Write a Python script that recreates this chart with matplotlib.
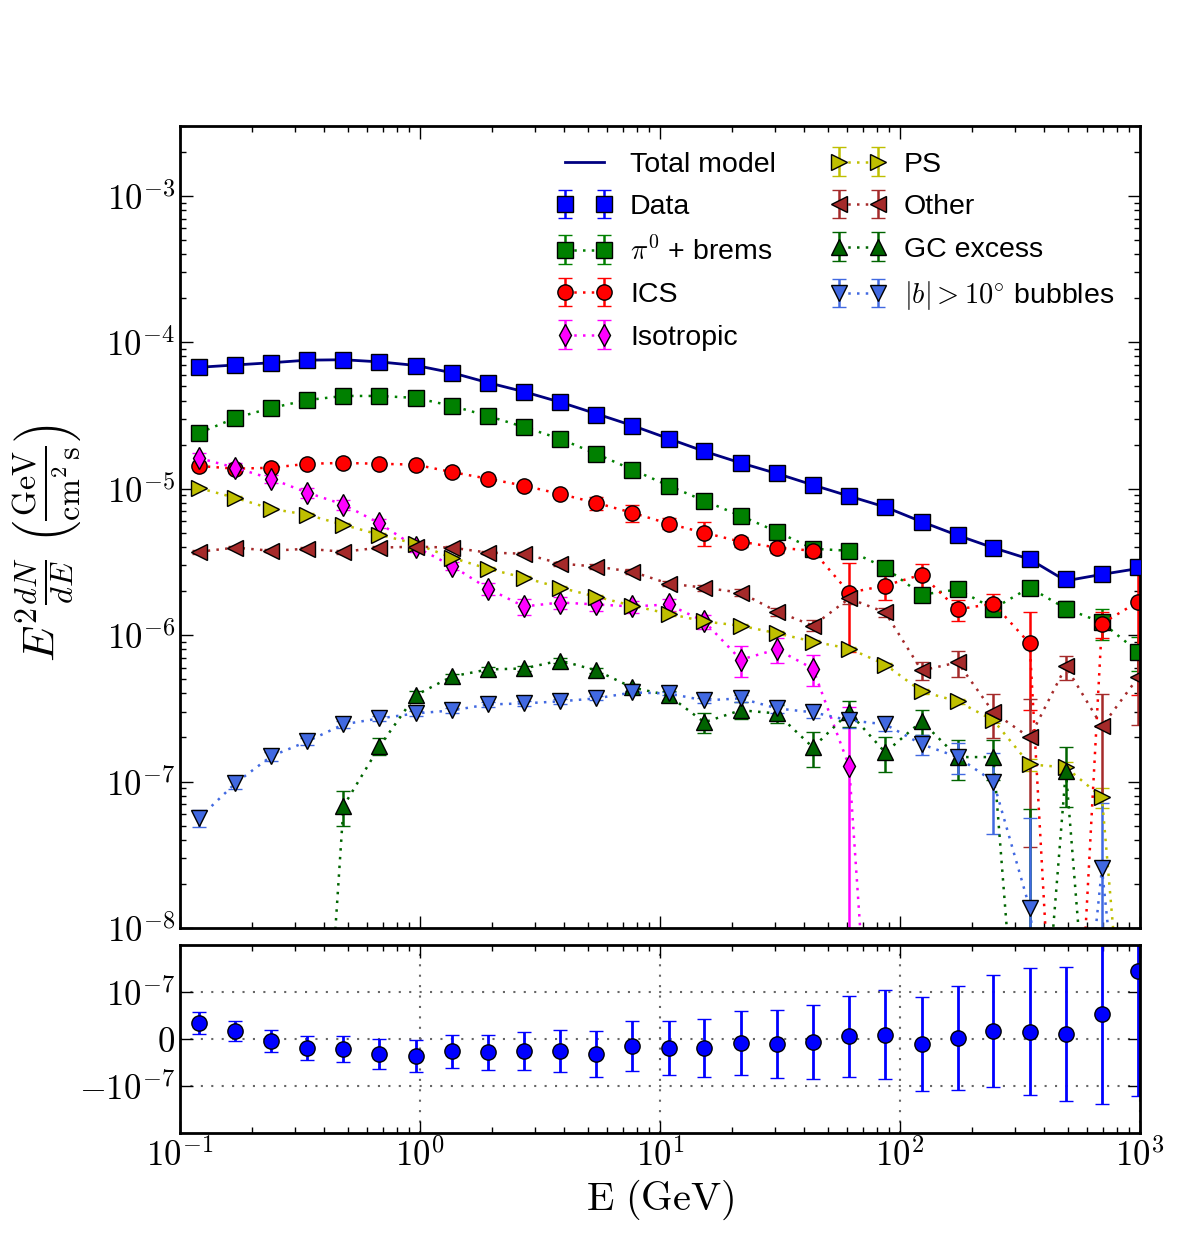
import matplotlib
matplotlib.use('Agg')
import matplotlib.pyplot as plt
from matplotlib.ticker import FuncFormatter, LogLocator, NullFormatter
import numpy as np

plt.rcParams['mathtext.fontset'] = 'cm'
plt.rcParams['font.family'] = ['Liberation Sans', 'DejaVu Sans']

# energy bins (GeV)
E = [0.120, 0.170, 0.240, 0.339, 0.480, 0.678, 0.959, 1.357, 1.92, 2.71, 3.84,
     5.43, 7.67, 10.85, 15.3, 21.7, 30.7, 43.4, 61.4, 86.8, 123, 174, 245, 347,
     491, 694, 982]

model = [6.75e-5, 7.0e-5, 7.25e-5, 7.55e-5, 7.6e-5, 7.35e-5, 6.95e-5, 6.2e-5, 5.3e-5,
         4.6e-5, 3.9e-5, 3.25e-5, 2.7e-5, 2.2e-5, 1.8e-5, 1.5e-5, 1.27e-5, 1.06e-5,
         8.9e-6, 7.5e-6, 5.95e-6, 4.8e-6, 3.95e-6, 3.3e-6, 2.35e-6, 2.6e-6, 2.85e-6]

data = [6.8e-5, 7.0e-5, 7.2e-5, 7.6e-5, 7.6e-5, 7.3e-5, 6.9e-5, 6.2e-5, 5.3e-5,
        4.6e-5, 3.9e-5, 3.2e-5, 2.7e-5, 2.2e-5, 1.8e-5, 1.5e-5, 1.28e-5, 1.06e-5,
        8.95e-6, 7.5e-6, 5.9e-6, 4.8e-6, 3.95e-6, 3.3e-6, 2.4e-6, 2.6e-6, 2.9e-6]
data_err = [4e-7, 4e-7, 4e-7, 4e-7, 4e-7, 3e-7, 3e-7, 3e-7, 2.5e-7, 2e-7, 1.8e-7,
            1.5e-7, 1.3e-7, 1.1e-7, 9e-8, 8e-8, 7e-8, 6e-8, 5e-8, 5e-8, 4e-8, 4e-8,
            4e-8, 4e-8, 3e-8, 4e-8, 5e-8]

pion = [2.40e-5, 3.04e-5, 3.56e-5, 4.03e-5, 4.30e-5, 4.30e-5, 4.17e-5, 3.68e-5, 3.14e-5,
        2.64e-5, 2.19e-5, 1.73e-5, 1.35e-5, 1.05e-5, 8.27e-6, 6.53e-6, 5.09e-6, 3.89e-6,
        3.77e-6, 2.89e-6, 1.89e-6, 2.05e-6, 1.52e-6, 2.11e-6, 1.52e-6, 1.22e-6, 7.7e-7]
pion_err = [2e-7, 2e-7, 2e-7, 2e-7, 2e-7, 2e-7, 2e-7, 2e-7, 2e-7, 2e-7, 2e-7, 2e-7,
            2e-7, 2e-7, 1.5e-7, 1.5e-7, 1.5e-7, 1.5e-7, 2e-7, 2e-7, 1.5e-7, 1.5e-7,
            1.5e-7, 1.5e-7, 2e-7, 3e-7, 2e-7]

ics = [1.43e-5, 1.37e-5, 1.39e-5, 1.48e-5, 1.50e-5, 1.48e-5, 1.46e-5, 1.30e-5, 1.17e-5,
       1.05e-5, 9.2e-6, 8.0e-6, 6.85e-6, 5.77e-6, 5.0e-6, 4.35e-6, 3.96e-6, 3.77e-6,
       1.95e-6, 2.18e-6, 2.59e-6, 1.50e-6, 1.64e-6, 8.77e-7, 3e-11, 1.20e-6, 1.69e-6]
ics_err = [3e-7, 3e-7, 3e-7, 3e-7, 3e-7, 3e-7, 3e-7, 3e-7, 3e-7, 3e-7, 4e-7, 8e-7,
           9e-7, 5e-7, 9.5e-7, 3.5e-7, 3e-7, 3e-7, 1.18e-6, 4.5e-7, 4.9e-7, 2.5e-7,
           2.8e-7, 5.7e-7, 0, 2.5e-7, 1.3e-6]

iso = [1.62e-5, 1.39e-5, 1.17e-5, 9.4e-6, 7.8e-6, 5.8e-6, 4.0e-6, 2.98e-6, 2.08e-6,
       1.57e-6, 1.67e-6, 1.62e-6, 1.57e-6, 1.62e-6, 1.24e-6, 6.8e-7, 8.0e-7, 5.9e-7,
       1.27e-7, 3e-11, 2e-11, 2e-11, 2e-11, 2e-11, 2e-11, 2e-11, 2e-11]
iso_err = [1.2e-6, 1e-6, 8e-7, 7e-7, 6e-7, 4e-7, 3e-7, 2e-7, 2e-7, 2e-7, 1.5e-7,
           1.5e-7, 1.5e-7, 1.5e-7, 1.3e-7, 1.6e-7, 1.5e-7, 1.4e-7, 1.94e-7, 0, 0, 0,
           0, 0, 0, 0, 0]

ps = [1.01e-5, 8.67e-6, 7.29e-6, 6.64e-6, 5.67e-6, 4.85e-6, 4.21e-6, 3.38e-6, 2.84e-6,
      2.47e-6, 2.11e-6, 1.83e-6, 1.59e-6, 1.40e-6, 1.24e-6, 1.16e-6, 1.03e-6, 9.04e-7,
      8.10e-7, 6.30e-7, 4.13e-7, 3.53e-7, 2.62e-7, 1.31e-7, 1.25e-7, 7.82e-8, 1e-10]
ps_err = [2e-7, 2e-7, 1.5e-7, 1.5e-7, 1.2e-7, 1e-7, 1e-7, 8e-8, 7e-8, 6e-8, 5e-8,
          5e-8, 4e-8, 4e-8, 3e-8, 3e-8, 3e-8, 2.5e-8, 2.5e-8, 2e-8, 1.5e-8, 1.5e-8,
          1.2e-8, 1.2e-8, 1.2e-8, 1.2e-8, 0]

other = [3.71e-6, 3.96e-6, 3.77e-6, 3.89e-6, 3.71e-6, 3.96e-6, 4.02e-6, 3.96e-6, 3.66e-6,
         3.60e-6, 3.08e-6, 2.94e-6, 2.71e-6, 2.25e-6, 2.11e-6, 1.95e-6, 1.45e-6, 1.16e-6,
         1.78e-6, 1.43e-6, 5.74e-7, 6.51e-7, 2.97e-7, 2.00e-7, 6.11e-7, 2.38e-7, 5.14e-7]
other_err = [1e-7, 1e-7, 1e-7, 1e-7, 1e-7, 1e-7, 1e-7, 1e-7, 1e-7, 1e-7, 1e-7, 1e-7,
             1e-7, 1e-7, 1e-7, 1e-7, 9e-8, 1e-7, 1.5e-7, 1e-7, 8e-8, 1.3e-7, 1.0e-7,
             1.64e-7, 1.15e-7, 1.6e-7, 2.7e-7]

gc = [1e-11, 1e-11, 1e-11, 1.2e-11, 6.79e-8, 1.74e-7, 3.88e-7, 5.22e-7, 5.83e-7,
      5.92e-7, 6.71e-7, 5.74e-7, 4.39e-7, 3.88e-7, 2.54e-7, 3.07e-7, 2.92e-7, 1.71e-7,
      2.97e-7, 1.58e-7, 2.58e-7, 1.47e-7, 1.47e-7, 1e-10, 1.19e-7, 1e-10, 1e-10]
gc_err = [0, 0, 0, 0, 1.8e-8, 2.3e-8, 2.5e-8, 2.5e-8, 2.5e-8, 2.5e-8, 2.5e-8, 2.5e-8,
          2.5e-8, 3e-8, 3.8e-8, 4e-8, 4.2e-8, 4.6e-8, 6e-8, 4.2e-8, 5e-8, 4.4e-8,
          4.4e-8, 6.5e-8, 5.2e-8, 0, 0]

bubbles = [5.62e-8, 9.73e-8, 1.49e-7, 1.88e-7, 2.46e-7, 2.70e-7, 2.92e-7, 3.06e-7, 3.36e-7,
           3.42e-7, 3.53e-7, 3.70e-7, 4.06e-7, 4.00e-7, 3.58e-7, 3.70e-7, 3.16e-7, 2.97e-7,
           2.62e-7, 2.46e-7, 1.80e-7, 1.47e-7, 1.00e-7, 1.37e-8, 1e-10, 2.56e-8, 1e-10]
bubbles_err = [7.5e-9, 8e-9, 1e-8, 1e-8, 1.2e-8, 1.2e-8, 1.2e-8, 1.2e-8, 1.2e-8, 1.2e-8,
               1.2e-8, 1.2e-8, 1.2e-8, 1.2e-8, 1.5e-8, 2e-8, 2e-8, 2.5e-8, 3e-8, 2.5e-8,
               2.7e-8, 3.5e-8, 5.6e-8, 4.3e-8, 0, 4.6e-8, 0]

# residuals (data - model), in units of 1e-7
resid = [0.34, 0.17, -0.04, -0.19, -0.21, -0.32, -0.36, -0.26, -0.28, -0.26, -0.26,
         -0.32, -0.15, -0.19, -0.19, -0.08, -0.11, -0.06, 0.06, 0.09, -0.11, 0.02,
         0.17, 0.15, 0.11, 0.53, 1.45]
resid_err = [0.23, 0.22, 0.23, 0.26, 0.27, 0.31, 0.34, 0.35, 0.37, 0.40, 0.45, 0.49,
             0.53, 0.57, 0.62, 0.68, 0.73, 0.79, 0.86, 0.95, 1.0, 1.1, 1.2, 1.35, 1.42,
             1.91, 2.66]

components = [
  (pion, pion_err, 's', 'green', r'$\pi^0$ + brems'),
  (ics, ics_err, 'o', 'red', 'ICS'),
  (iso, iso_err, 'd', 'magenta', 'Isotropic'),
  (ps, ps_err, '>', '#bfbf00', 'PS'),
  (other, other_err, '<', 'brown', 'Other'),
  (gc, gc_err, '^', 'darkgreen', 'GC excess'),
  (bubbles, bubbles_err, 'v', 'royalblue', r'$|b| > 10^{\circ}$ bubbles'),
]

fig = plt.figure(figsize=(12, 12.6), dpi=100)
ax = fig.add_axes([0.15, 0.2635, 0.8, 0.6365])
axr = fig.add_axes([0.15, 0.1008, 0.8, 0.1492])

dots = (0, (1, 2.5))
handles = {}
for vals, err, mk, col, lab in components:
  h = ax.errorbar(E, vals, yerr=err, fmt=mk, ls=dots, color=col, ecolor=col,
                  mec='k', mew=1, ms=11, lw=1.8, elinewidth=1.8, capsize=5,
                  capthick=1.5, label=lab)
  handles[lab] = h

hm, = ax.plot(E, model, '-', color='navy', lw=2, label='Total model', zorder=5)
hd = ax.errorbar(E, data, yerr=data_err, fmt='s', color='blue', ecolor='blue',
                 mec='k', mew=1, ms=11, elinewidth=1.8, capsize=5, capthick=1.5,
                 label='Data', zorder=6)

order = [hm, hd] + [handles[c[4]] for c in components]
leg = ax.legend(order, [h.get_label() for h in order], loc='upper right', ncol=2,
                frameon=False, fontsize=20.5, numpoints=2, handlelength=2.0,
                handletextpad=0.6, columnspacing=1.9, labelspacing=0.58,
                borderaxespad=0.5)

ax.set_xscale('log')
ax.set_yscale('log')
ax.set_xlim(0.1, 1000)
ax.set_ylim(1e-8, 3e-3)

logfmt = FuncFormatter(lambda v, p: r'$10^{%d}$' % int(round(np.log10(v))))
ax.yaxis.set_major_locator(LogLocator(base=10, numticks=20))
ax.yaxis.set_major_formatter(logfmt)
ax.yaxis.set_minor_locator(LogLocator(base=10, subs=np.arange(2, 10), numticks=20))
ax.yaxis.set_minor_formatter(NullFormatter())
ax.xaxis.set_major_formatter(NullFormatter())
ax.xaxis.set_minor_formatter(NullFormatter())
ax.set_ylabel(r'$E^2\frac{dN}{dE}\ \left(\frac{\mathrm{GeV}}{\mathrm{cm^2\,s}}\right)$',
              fontsize=33)
ax.yaxis.set_label_coords(-0.1, 0.48)

# residual panel
axr.errorbar(E, np.array(resid) * 1e-7, yerr=np.array(resid_err) * 1e-7, fmt='o',
             color='blue', ecolor='blue', mec='k', mew=1, ms=11, elinewidth=2,
             capsize=5, capthick=1.5)
axr.set_xscale('log')
axr.set_xlim(0.1, 1000)
axr.set_ylim(-2e-7, 2e-7)
axr.set_yticks([-1e-7, 0, 1e-7])
axr.set_yticklabels([r'$-10^{-7}$', r'$0$', r'$10^{-7}$'])
axr.xaxis.set_major_formatter(logfmt)
axr.xaxis.set_minor_formatter(NullFormatter())
axr.grid(True, which='major', ls=(0, (1, 4)), color='0.4', lw=1.5)
axr.set_xlabel(r'$\mathrm{E\ (GeV)}$', fontsize=29, labelpad=4)

for a in (ax, axr):
  a.tick_params(which='both', direction='in', top=True, right=True, labelsize=25)
  a.tick_params(which='major', length=9, width=1)
  a.tick_params(which='minor', length=4.5, width=1)
  for s in a.spines.values():
    s.set_linewidth(2)

plt.savefig('out.png', dpi=100)
